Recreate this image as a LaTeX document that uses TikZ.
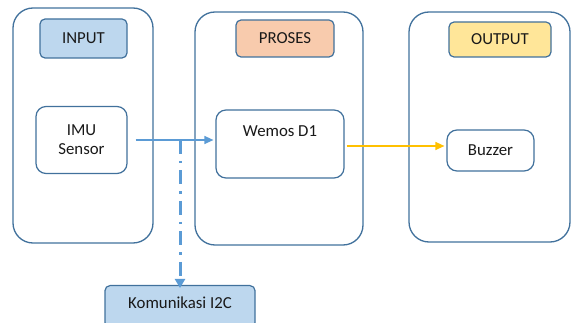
\documentclass[tikz,border=0pt]{standalone}
\usepackage{fontspec}
\setmainfont{Carlito}
\usetikzlibrary{arrows.meta}
\definecolor{boxline}{RGB}{65,113,156}
\definecolor{lblue}{RGB}{189,215,238}
\definecolor{lorange}{RGB}{248,203,173}
\definecolor{lyellow}{RGB}{255,230,153}
\definecolor{arrblue}{RGB}{91,155,213}
\definecolor{arrorange}{RGB}{255,192,0}
\tikzset{
  x=1pt, y=-1pt,
  every node/.style={font=\fontsize{16.8}{19}\selectfont, text=black!90, inner sep=0pt, align=center},
  panel/.style={draw=boxline, line width=1.3pt, rounded corners=20pt, minimum width=#1},
  lbl/.style={draw=boxline, line width=1.2pt, rounded corners=5pt},
  inbox/.style={draw=boxline, line width=1.2pt, rounded corners=10pt, fill=white},
  tip/.style={-{Triangle[length=9pt,width=8pt]}},
}
\begin{document}
\begin{tikzpicture}
\useasboundingbox (0,0) rectangle (571,323);
\clip (0,0) rectangle (571,323);
% panels
\node[panel=140pt, minimum height=235pt] (inpanel) at (83,125.5) {};
\node[panel=168pt, minimum height=233pt] (propanel) at (279,128.5) {};
\node[panel=161pt, minimum height=230pt] (outpanel) at (489.5,127) {};
% labels
\node[lbl, fill=lblue, minimum width=87pt, minimum height=39pt] (inlbl) at (83.5,38.5) {INPUT};
\node[lbl, fill=lorange, minimum width=98pt, minimum height=37pt] (prolbl) at (285,38.5) {PROSES};
\node[lbl, fill=lyellow, minimum width=102pt, minimum height=35pt] (outlbl) at (500,39.5) {OUTPUT};
% inner boxes
\node[inbox, minimum width=91pt, minimum height=67pt] (imu) at (81.5,140) {IMU\\Sensor};
\node[inbox, minimum width=128pt, minimum height=68pt] (wemos) at (280,144) {};
\node[anchor=center] (wemostext) at (280,131) {Wemos D1};
\node[inbox, minimum width=87pt, minimum height=41pt] (buzzer) at (490.5,150.5) {Buzzer};
\node[lbl, fill=lblue, minimum width=150pt, minimum height=42pt, anchor=north] (kom) at (180,285) {};
\node (komtext) at (180,303) {Komunikasi I2C};
% connectors
\coordinate (junc) at (kom.north |- imu.east);
\coordinate (ob) at ([xshift=-2pt,yshift=4.5pt]buzzer.west);
\draw[arrblue, line width=1.3pt, tip] ([xshift=8pt]imu.east) -- ([xshift=-2pt]imu.east -| wemos.west);
\draw[arrblue, line width=3pt, dash pattern=on 14pt off 7pt on 2.5pt off 7pt, -{Triangle[length=9pt,width=10pt]}] (junc) -- ([yshift=-3pt]kom.north);
\draw[arrorange, line width=1.3pt, tip] ([xshift=2pt]ob -| wemos.east) -- (ob);
\end{tikzpicture}
\end{document}
